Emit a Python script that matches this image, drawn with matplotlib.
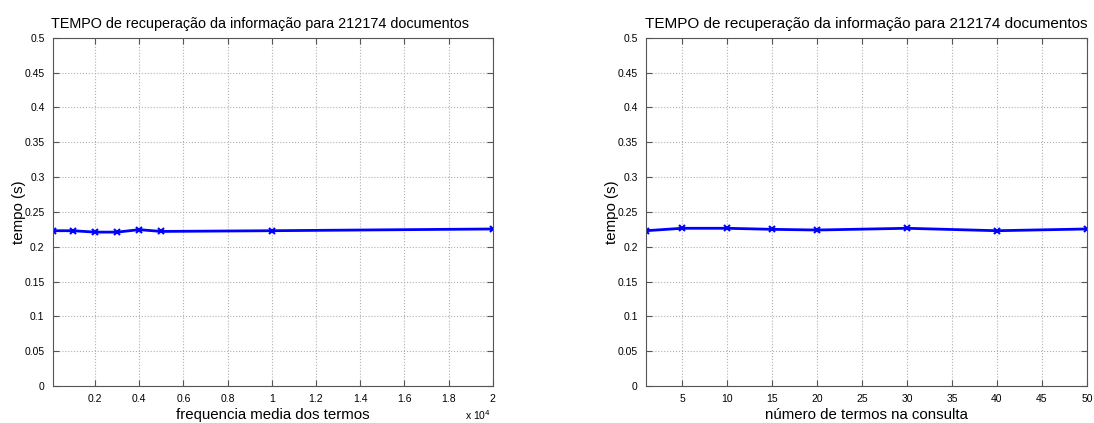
import matplotlib
matplotlib.use("Agg")
import matplotlib.pyplot as plt
from matplotlib.ticker import FixedLocator

plt.rcParams['font.family'] = ['Liberation Sans', 'DejaVu Sans']

# mean term frequency vs. retrieval time
freq = [100, 1000, 2000, 3000, 4000, 5000, 10000, 20000]
tempo_freq = [0.223, 0.223, 0.221, 0.221, 0.2245, 0.222, 0.223, 0.2255]

# number of query terms vs. retrieval time
n_termos = [1, 5, 10, 15, 20, 30, 40, 50]
tempo_termos = [0.223, 0.2265, 0.2265, 0.225, 0.224, 0.2265, 0.223, 0.2255]

titulo = "TEMPO de recuperação da informação para 212174 documentos"
y_ticks = [0, 0.05, 0.1, 0.15, 0.2, 0.25, 0.3, 0.35, 0.4, 0.45, 0.5]
y_labels = ["0", "0.05", "0.1", "0.15", "0.2", "0.25", "0.3", "0.35", "0.4", "0.45", "0.5"]

fig = plt.figure(figsize=(10.94, 4.23), dpi=100)
ax1 = fig.add_axes([0.0484, 0.0875, 0.402, 0.823])
ax2 = fig.add_axes([0.5905, 0.0875, 0.403, 0.823])


def style(ax, title_size, title_x):
    ax.set_ylim(0, 0.5)
    ax.yaxis.set_major_locator(FixedLocator(y_ticks))
    ax.set_yticklabels(y_labels)
    ax.grid(True, linestyle=':', color='#b0b0b0', linewidth=0.8)
    ax.tick_params(direction='in', length=4, labelsize=7.5, top=True, right=True,
                   color='#555555', pad=6)
    for s in ax.spines.values():
        s.set_color('#555555')
        s.set_linewidth(0.8)
    ax.set_title(titulo, fontsize=title_size, pad=7, x=title_x)
    ax.set_ylabel("tempo (s)", fontsize=10.8, labelpad=-1)


ax1.plot(freq, tempo_freq, '-x', color='#0000ff', linewidth=2, markersize=5,
         markeredgewidth=1.5)
ax1.set_xlim(100, 20000)
ax1.xaxis.set_major_locator(FixedLocator([2000 * i for i in range(1, 11)]))
ax1.set_xticklabels(["0.2", "0.4", "0.6", "0.8", "1", "1.2", "1.4", "1.6", "1.8", "2"])
ax1.set_xlabel("frequencia media dos termos", fontsize=10.8, labelpad=3)
style(ax1, 10.4, 0.47)
ax1.text(0.995, -0.099, r"x 10$^{4}$", transform=ax1.transAxes, ha='right',
         va='baseline', fontsize=7.5)

ax2.plot(n_termos, tempo_termos, '-x', color='#0000ff', linewidth=2, markersize=5,
         markeredgewidth=1.5)
ax2.set_xlim(1, 50)
ax2.xaxis.set_major_locator(FixedLocator(list(range(5, 51, 5))))
ax2.set_xlabel("número de termos na consulta", fontsize=10.8, labelpad=3)
style(ax2, 11.0, 0.5)

fig.savefig("out.png", dpi=100)
